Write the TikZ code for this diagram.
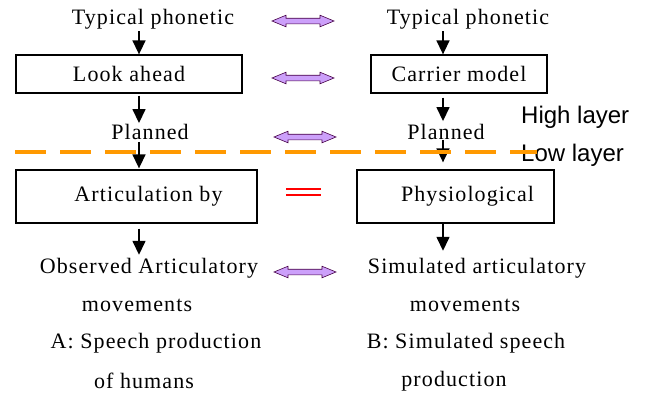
\documentclass[tikz,border=0pt]{standalone}
\usepackage{fontspec}
\setmainfont{Liberation Serif}[LetterSpace=5]
\newfontfamily\layerfont{Liberation Sans}
\usepackage{xcolor}
\usepackage{tikz}
\usetikzlibrary{positioning, shapes.arrows, arrows.meta, calc}

\definecolor{lavender}{RGB}{204,160,250}
\definecolor{layerline}{RGB}{255,153,0}

\begin{document}
\begin{tikzpicture}[
        x=1pt, y=-1pt,
        every node/.style={font=\fontsize{22}{26}\selectfont, inner sep=0pt},
        phase/.style={draw=black, rectangle, line width=1.3pt, minimum height=38pt},
        layer/.style={font=\layerfont\fontsize{24}{28}\selectfont, anchor=west},
        down/.style={-{Triangle[width=13pt, length=14pt]}, line width=1.5pt},
        match/.style={double arrow, draw=violet!55!black, fill=lavender, line width=0.6pt,
            minimum height=62pt, minimum width=11pt, inner sep=2.5pt,
            double arrow head extend=3pt, double arrow tip angle=45}
    ]
        \useasboundingbox (0,0) rectangle (648,394);

        % Nodes
        \node (tpA) at (153,19) {Typical phonetic};
        \node (lookA) [phase, minimum width=226pt] at (129,74) {Look ahead};
        \node (planA) at (150,132) {Planned};
        \node (artA) [phase, minimum width=241pt, minimum height=53pt] at (136.5,196.5) {\hspace*{24pt}Articulation by};
        \node (obsA) at (149,268) {Observed Articulatory};
        \node (movA) at (137,305) {movements};
        \node (capA1) at (156,343) {A: Speech production};
        \node (capA2) at (144,381) {of humans};

        \node (tpB) at (468,19) {Typical phonetic};
        \node (carB) [phase, minimum width=176pt] at (459,74) {Carrier model};
        \node (planB) at (446,132) {Planned};
        \node (physB) [phase, minimum width=197pt, minimum height=53pt] at (455.5,196.5) {\hspace*{24pt}Physiological};
        \node (simB) at (477,268) {Simulated articulatory};
        \node (movB) at (465,305) {movements};
        \node (capB1) at (466,343) {B: Simulated speech};
        \node (capB2) at (454,381) {production};

        \node (high) [layer] at (521,117) {High layer};
        \node (low) [layer] at (521,155) {Low layer};

        \node (m1) [match] at (303,21) {};
        \node (m2) [match] at (303,78) {};
        \node (m3) [match] at (305,137) {};
        \node (m4) [match] at (305,272) {};

        \coordinate (colA) at (139,0);
        \coordinate (colB) at (443,0);
        \coordinate (dashL) at (15,152);
        \coordinate (dashR) at (537,152);
        \coordinate (eqL) at (286,192);
        \coordinate (eqR) at (321,192);

        % Arrows
        \draw [down] ([yshift=-2pt]tpA.south -| colA) -- (lookA.north -| colA);
        \draw [down] ([yshift=-2pt]lookA.south -| colA) -- ([yshift=1pt]planA.north -| colA);
        \draw [down] ([yshift=-2pt]planA.south -| colA) -- ([yshift=1pt]artA.north -| colA);
        \draw [down] ([yshift=-5pt]artA.south -| colA) -- ([yshift=3pt]obsA.north -| colA);

        \draw [down] ([yshift=-2pt]tpB.south -| colB) -- (carB.north -| colB);
        \draw [down] ([yshift=-4pt]carB.south -| colB) -- ([yshift=3pt]planB.north -| colB);
        \draw [down] (planB.south -| colB) -- ([yshift=7pt]physB.north -| colB);
        \draw [down] (physB.south -| colB) -- ([yshift=7pt]simB.north -| colB);

        % Layer border and equality
        \draw [layerline, line width=3.5pt, dash pattern=on 31pt off 14pt] (dashL) -- (dashR);
        \draw [red, line width=2pt] ([yshift=-3pt]eqL) -- ([yshift=-3pt]eqR);
        \draw [red, line width=2pt] ([yshift=3pt]eqL) -- ([yshift=3pt]eqR);
\end{tikzpicture}
\end{document}
